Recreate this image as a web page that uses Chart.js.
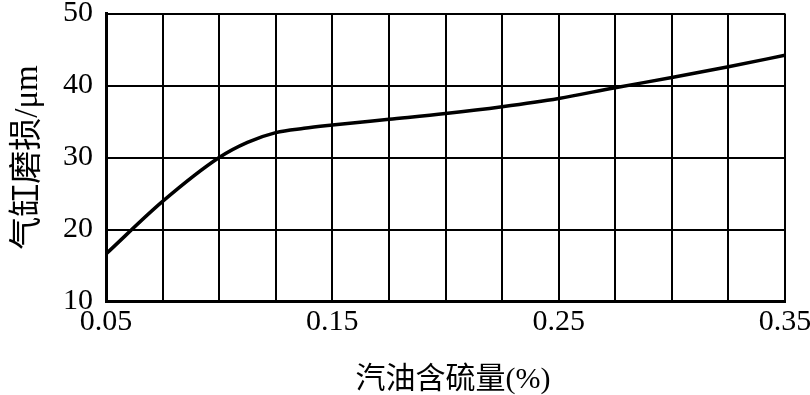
<!DOCTYPE html>
<html>
<head>
<meta charset="utf-8">
<script src="https://cdn.jsdelivr.net/npm/chart.js@4"></script>
<style>
  html, body { margin: 0; padding: 0; background: #fff; }
  #wrap { width: 810px; height: 395px; }
</style>
</head>
<body>
<div id="wrap"><canvas id="c" width="810" height="395"></canvas></div>
<script>
// Sulfur content in gasoline (%) and cylinder wear (μm)
const sulfurContent = [0.05, 0.075, 0.1, 0.1125, 0.125, 0.1375, 0.15, 0.175, 0.2, 0.225, 0.25, 0.275, 0.3, 0.325, 0.35];
const cylinderWear  = [16.6, 23.9, 30.0, 32.1, 33.45, 34.05, 34.5, 35.3, 36.1, 37.05, 38.2, 39.7, 41.1, 42.6, 44.2];

// Axis ticks
const xGridTicks = [0.05, 0.075, 0.1, 0.125, 0.15, 0.175, 0.2, 0.225, 0.25, 0.275, 0.3, 0.325, 0.35];
const xTickLabels = ['0.05', '0.15', '0.25', '0.35'];
const yTicks = [10, 20, 30, 40, 50];

const xTitle = '\u2002汽油含硫量(%)';
const yTitle = '气缸磨损/μm';

const serif = "'Liberation Serif', 'Noto Sans CJK SC', serif";

const points = sulfurContent.map((x, i) => ({ x: x, y: cylinderWear[i] }));

new Chart(document.getElementById('c'), {
  type: 'line',
  data: {
    datasets: [{
      data: points,
      borderColor: '#000',
      borderWidth: 3.5,
      pointRadius: 0,
      fill: false,
      cubicInterpolationMode: 'monotone'
    }]
  },
  options: {
    responsive: false,
    animation: false,
    devicePixelRatio: 1,
    layout: { padding: 0, autoPadding: false },
    plugins: { legend: { display: false }, tooltip: { enabled: false } },
    scales: {
      x: {
        type: 'linear',
        min: 0.05,
        max: 0.35,
        afterBuildTicks: (scale) => { scale.ticks = xGridTicks.map(v => ({ value: v })); },
        afterFit: (scale) => {
          scale.height = 93.5;
          scale.paddingLeft = 0;
          scale.paddingRight = 25;
        },
        grid: { color: '#000', lineWidth: 2, drawTicks: false },
        border: { color: '#000', width: 3 },
        ticks: {
          color: '#000',
          padding: 6,
          maxRotation: 0,
          autoSkip: false,
          font: { family: serif, size: 30, lineHeight: 1 },
          callback: (v) => {
            const lab = xTickLabels.find(l => Math.abs(parseFloat(l) - v) < 1e-6);
            return lab === undefined ? '' : lab;
          }
        },
        title: {
          display: true,
          text: xTitle,
          color: '#000',
          padding: { top: 0, bottom: 0 },
          font: { family: serif, size: 30, lineHeight: 1 }
        }
      },
      y: {
        type: 'linear',
        min: 10,
        max: 50,
        afterBuildTicks: (scale) => { scale.ticks = yTicks.map(v => ({ value: v })); },
        afterFit: (scale) => {
          scale.width = 106;
          scale.paddingTop = 13.5;
          scale.paddingBottom = 0;
        },
        grid: { color: '#000', lineWidth: 2, drawTicks: false },
        border: { color: '#000', width: 3 },
        ticks: {
          color: '#000',
          padding: 13,
          font: { family: serif, size: 30, lineHeight: 1 }
        },
        title: {
          display: true,
          text: yTitle,
          color: '#000',
          padding: { top: 12, bottom: 0 },
          font: { family: serif, size: 33, lineHeight: 1 }
        }
      }
    }
  }
});
</script>
</body>
</html>
